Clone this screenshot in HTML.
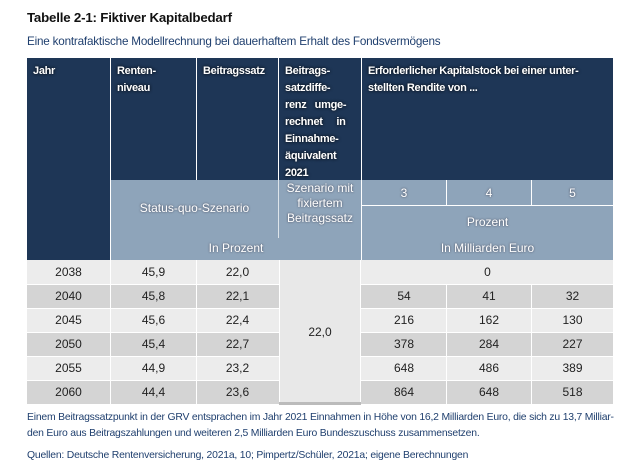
<!DOCTYPE html>
<html><head><meta charset="utf-8"><style>
body{margin:0;width:640px;height:472px;background:#fff;font-family:"Liberation Sans",sans-serif;position:relative;overflow:hidden}
.a{position:absolute;box-sizing:border-box}
.t{font-size:13.3px;font-weight:bold;color:#111;left:27px;top:10px;letter-spacing:-0.2px}
.s{font-size:11.7px;color:#1f3f6e;left:27px;top:35px;letter-spacing:-0.2px}
.d{background:#1e3656;color:#fff;font-weight:bold;font-size:11px;padding:5px 6px;line-height:17px;letter-spacing:-0.3px;text-shadow:0 0 3px #000}
.l{background:#8ea4ba}
.lt{position:absolute;color:#fff;font-size:12px;text-align:center;text-shadow:0 0 2px #445;white-space:nowrap}
.r{font-size:12px;color:#222;text-align:center;line-height:24px;height:24px}
.f{font-size:10.4px;color:#1f3f6e;left:27px;letter-spacing:-0.2px;white-space:nowrap}
</style></head><body>
<div class="a t">Tabelle 2-1: Fiktiver Kapitalbedarf</div>
<div class="a s">Eine kontrafaktische Modellrechnung bei dauerhaftem Erhalt des Fondsvermögens</div>

<div class="a d" style="left:27px;top:58px;width:83px;height:202px">Jahr</div>
<div class="a d" style="left:111px;top:58px;width:85px;height:122px">Renten-<br>niveau</div>
<div class="a d" style="left:197px;top:58px;width:81px;height:122px">Beitragssatz</div>
<div class="a d" style="left:279px;top:58px;width:82px;height:122px;text-align:justify">Beitrags-<br>satzdiffe-<br>renz&nbsp;&nbsp; umge-<br>rechnet&nbsp;&nbsp;&nbsp;&nbsp; in<br>Einnahme-<br>äquivalent<br>2021</div>
<div class="a d" style="left:362px;top:58px;width:251px;height:122px">Erforderlicher Kapitalstock bei einer unter-<br>stellten Rendite von ...</div>

<div class="a l" style="left:111px;top:180px;width:250px;height:80px"></div>
<div class="lt" style="left:111px;width:167px;top:201px">Status-quo-Szenario</div>
<div class="lt" style="left:111px;width:250px;top:241px">In Prozent</div>
<div class="lt" style="left:279px;width:82px;top:181px;line-height:15px">Szenario mit<br>fixiertem<br>Beitragssatz</div>
<div class="a" style="left:278px;top:180px;width:1px;height:58px;background:#dde4ea"></div>
<div class="a l" style="left:362px;top:180px;width:84px;height:25px"></div><div class="lt" style="left:362px;width:84px;top:186px">3</div>
<div class="a l" style="left:447px;top:180px;width:84px;height:25px"></div><div class="lt" style="left:447px;width:84px;top:186px">4</div>
<div class="a l" style="left:532px;top:180px;width:81px;height:25px"></div><div class="lt" style="left:532px;width:81px;top:186px">5</div>
<div class="a l" style="left:362px;top:206px;width:251px;height:54px"></div>
<div class="lt" style="left:362px;width:251px;top:215px">Prozent</div>
<div class="lt" style="left:362px;width:251px;top:241px">In Milliarden Euro</div>

<div class="a" style="left:27px;top:260px;width:586px;height:144px">
<div class="a" style="left:0;top:0;width:586px;height:24px;background:#ececec"></div>
<div class="a" style="left:0;top:24px;width:586px;height:24px;background:#d4d4d4"></div>
<div class="a" style="left:0;top:48px;width:586px;height:24px;background:#ececec"></div>
<div class="a" style="left:0;top:72px;width:586px;height:24px;background:#d4d4d4"></div>
<div class="a" style="left:0;top:96px;width:586px;height:24px;background:#ececec"></div>
<div class="a" style="left:0;top:120px;width:586px;height:24px;background:#d4d4d4"></div>
<div class="a" style="left:252px;top:0;width:82px;height:144px;background:#e8e8e8;border-left:1px solid #fff;border-right:1px solid #fff"></div>
</div>
<div class="a" style="left:279px;top:402px;width:82px;height:3px;background:#bbb"></div>
<div id="rows"></div>
<div class="a r" style="left:279px;top:320px;width:82px">22,0</div>
<script>
var d=[["2038","45,9","22,0","0"],["2040","45,8","22,1","54","41","32"],["2045","45,6","22,4","216","162","130"],["2050","45,4","22,7","378","284","227"],["2055","44,9","23,2","648","486","389"],["2060","44,4","23,6","864","648","518"]];
var c=[[27,83],[111,85],[197,81]],e=[[362,84],[447,84],[532,81]],h="";
d.forEach(function(r,i){var y=260+i*24;
for(var k=0;k<3;k++)h+='<div class="a r" style="left:'+c[k][0]+'px;top:'+y+'px;width:'+c[k][1]+'px">'+r[k]+'</div>';
if(r.length==4)h+='<div class="a r" style="left:362px;top:'+y+'px;width:251px">0</div>';
else for(k=0;k<3;k++)h+='<div class="a r" style="left:'+e[k][0]+'px;top:'+y+'px;width:'+e[k][1]+'px">'+r[k+3]+'</div>';
h+='<div class="a" style="left:110px;top:'+y+'px;width:1px;height:24px;background:#fff"></div><div class="a" style="left:196px;top:'+y+'px;width:1px;height:24px;background:#fff"></div>';
if(i>0)h+='<div class="a" style="left:446px;top:'+y+'px;width:1px;height:24px;background:#fff"></div><div class="a" style="left:531px;top:'+y+'px;width:1px;height:24px;background:#fff"></div>';
if(i>0)h+='<div class="a" style="left:27px;top:'+y+'px;width:252px;height:1px;background:#fff"></div><div class="a" style="left:361px;top:'+y+'px;width:252px;height:1px;background:#fff"></div>';
});
document.getElementById('rows').innerHTML=h;
</script>
<div class="a f" style="top:412px">Einem Beitragssatzpunkt in der GRV entsprachen im Jahr 2021 Einnahmen in Höhe von 16,2 Milliarden Euro, die sich zu 13,7 Milliar-</div>
<div class="a f" style="top:428px">den Euro aus Beitragszahlungen und weiteren 2,5 Milliarden Euro Bundeszuschuss zusammensetzen.</div>
<div class="a f" style="top:450px">Quellen: Deutsche Rentenversicherung, 2021a, 10; Pimpertz/Schüler, 2021a; eigene Berechnungen</div>
</body></html>
